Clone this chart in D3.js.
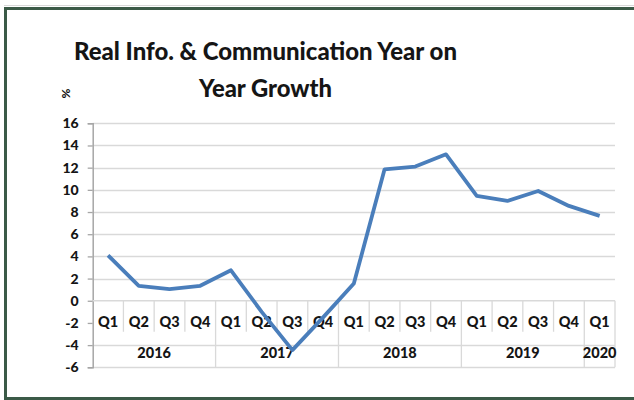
<!DOCTYPE html>
<html>
<head>
<meta charset="utf-8">
<script src="https://cdn.jsdelivr.net/npm/d3@7"></script>
<style>
  html, body { margin: 0; padding: 0; background: #fff; }
  svg { display: block; }
  text { font-family: Lato, "Open Sans", sans-serif; font-weight: 900; fill: #151515; }
</style>
</head>
<body>
<svg id="chart" width="634" height="400"></svg>
<script>
const years = ["2016", "2017", "2018", "2019", "2020"];
const quarters = ["Q1", "Q2", "Q3", "Q4"];
const periods = [
  "2016 Q1","2016 Q2","2016 Q3","2016 Q4",
  "2017 Q1","2017 Q2","2017 Q3","2017 Q4",
  "2018 Q1","2018 Q2","2018 Q3","2018 Q4",
  "2019 Q1","2019 Q2","2019 Q3","2019 Q4",
  "2020 Q1"
];
const growth = [4.1, 1.35, 1.05, 1.35, 2.75, -1.0, -4.45, -1.5, 1.55, 11.85, 12.1, 13.2, 9.45, 9.0, 9.9, 8.55, 7.65];
const yTicks = [-6, -4, -2, 0, 2, 4, 6, 8, 10, 12, 14, 16];
const titleLines = ["Real Info. & Communication Year on", "Year Growth"];
const yUnit = "%";

const svg = d3.select("#chart");

// outer frame
svg.append("line").attr("x1", 4).attr("x2", 634).attr("y1", 5.5).attr("y2", 5.5)
  .attr("stroke", "#d8d8d8").attr("stroke-width", 1);
svg.append("rect").attr("x", 5.5).attr("y", 8.5).attr("width", 640).attr("height", 390)
  .attr("fill", "none").attr("stroke", "#3b5a47").attr("stroke-width", 3);

const x = d3.scaleBand().domain(periods).range([92.7, 615]).padding(0);
const y = d3.scaleLinear().domain([-6, 16]).range([367.3, 123.3]);

// gridlines
const gridG = svg.append("g");
gridG.selectAll("line").data(yTicks.filter(v => v !== -2 && v !== 0)).join("line")
  .attr("x1", 92.7).attr("x2", 615)
  .attr("y1", d => Math.round(y(d)) + 0.5).attr("y2", d => Math.round(y(d)) + 0.5)
  .attr("stroke", "#d9d9d9").attr("stroke-width", 1.3);

// y axis
const yAxis = d3.axisLeft(y).tickValues(yTicks).tickSize(5).tickPadding(9).tickFormat(d => String(d));
const yG = svg.append("g").attr("transform", "translate(92.7,0)").call(yAxis);
yG.select(".domain").attr("stroke", "#a6a6a6").attr("stroke-width", 1.5);
yG.selectAll(".tick line").attr("stroke", "#a6a6a6").attr("stroke-width", 1.3);
yG.selectAll(".tick text").attr("font-size", 14).attr("font-family", "Lato, sans-serif")
  .attr("font-weight", 900).attr("fill", "#151515");

// category axis at zero
const y0 = y(0);
svg.append("line").attr("x1", 92.7).attr("x2", 615).attr("y1", y0).attr("y2", y0)
  .attr("stroke", "#d9d9d9").attr("stroke-width", 1.5);

// separators
const bounds = periods.map(p => x(p)).concat([615]);
svg.append("g").selectAll("line").data(bounds.slice(1)).join("line")
  .attr("x1", d => d).attr("x2", d => d)
  .attr("y1", y0)
  .attr("y2", (d, i) => ((i + 1) % 4 === 0 || i === bounds.length - 2) ? y(-6) : y0 + 31)
  .attr("stroke", "#d9d9d9").attr("stroke-width", 1.3);

// quarter labels
svg.append("g").selectAll("text").data(periods).join("text")
  .attr("x", d => x(d) + x.bandwidth() / 2)
  .attr("y", y0 + 26.5)
  .attr("text-anchor", "middle").attr("font-size", 14.5)
  .text(d => d.split(" ")[1]);

// year labels
svg.append("g").selectAll("text").data(years).join("text")
  .attr("x", yr => {
    const ps = periods.filter(p => p.startsWith(yr));
    return (x(ps[0]) + x(ps[ps.length - 1]) + x.bandwidth()) / 2;
  })
  .attr("y", y0 + 57)
  .attr("text-anchor", "middle").attr("font-size", 14.5)
  .text(d => d);

// line
const line = d3.line().x((d, i) => x(periods[i]) + x.bandwidth() / 2).y(d => y(d));
svg.append("path").datum(growth).attr("d", line)
  .attr("fill", "none").attr("stroke", "#4a7ebb").attr("stroke-width", 3.8)
  .attr("stroke-linejoin", "round");

// title
svg.append("text").attr("x", 265.5).attr("y", 60).attr("text-anchor", "middle")
  .attr("font-size", 24).attr("textLength", 383).attr("lengthAdjust", "spacingAndGlyphs")
  .text(titleLines[0]);
svg.append("text").attr("x", 265.5).attr("y", 96.8).attr("text-anchor", "middle")
  .attr("font-size", 24).attr("textLength", 133).attr("lengthAdjust", "spacingAndGlyphs")
  .text(titleLines[1]);

// unit label
svg.append("text").attr("transform", "translate(65.5,93.5) rotate(-90)")
  .attr("text-anchor", "middle").attr("dy", "0.35em").attr("font-size", 12).text(yUnit);
</script>
</body>
</html>
